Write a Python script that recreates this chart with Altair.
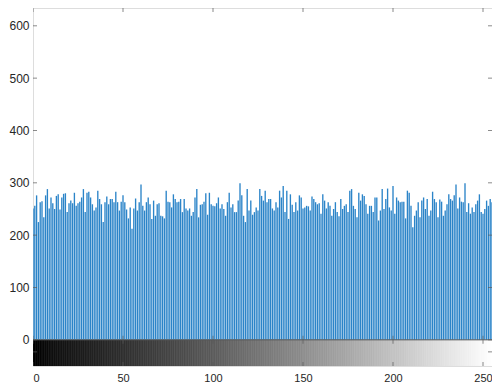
import altair as alt
import pandas as pd

# histogram counts for gray levels 0..255
counts = [
    251,256,276,225,263,265,234,276,288,251, 272,261,250,275,278,249,272,279,280,244,
    261,266,261,281,256,261,264,272,288,244, 281,283,272,259,247,253,285,269,259,225,
    263,274,259,269,
    269,263,283,263,247,264,276,263,249,232, 253,212,251,270,247,263,297,256,247,263,
    272,259,231,266,237,259,261,237,236,232, 285,264,263,253,278,269,263,264,269,244,
    269,251,247,251,
    237,244,272,288,234,258,259,264,280,239, 281,259,256,255,261,272,251,259,250,237,
    263,281,253,259,244,244,266,299,276,237, 225,288,247,266,239,244,253,247,288,275,
    266,285,263,269,
    269,251,247,263,253,285,272,294,244,285, 231,278,258,244,263,247,276,272,251,253,
    256,255,247,274,269,263,259,261,241,278, 266,251,263,256,237,250,263,244,236,269,
    250,256,259,244,
    285,288,256,250,234,281,266,278,275,259, 241,256,256,244,272,272,228,247,288,250,
    269,289,253,247,294,241,272,266,263,264, 264,232,285,281,256,215,237,247,263,234,
    266,272,250,269,237,
    247,283,269,263,234,268,264,237,247,259, 278,269,266,276,297,251,272,264,263,299,
    244,261,241,253,244,259,266,278,244,241, 250,266,256,269,263,
]
levels = list(range(len(counts)))
x_ticks = [0, 50, 100, 150, 200, 250]
y_ticks = [0, 100, 200, 300, 400, 500, 600]
x_min, x_max = 0, 255
y_top = 634
cbar_bottom = -50
cbar_mid = -23

hist_df = pd.DataFrame({"level": levels, "count": counts})
cbar_df = pd.DataFrame({"level": levels, "lo": [l - 0.5 for l in levels], "hi": [l + 0.5 for l in levels]})

xs = alt.Scale(domain=[x_min, x_max], nice=False, zero=False)
ys = alt.Scale(domain=[cbar_bottom, y_top], nice=False, zero=False)

label_color = "#262626"
frame_color = "#5a5a5a"
gray = alt.Scale(domain=[0, 255], range=["#000000", "#ffffff"])

bars = alt.Chart(hist_df).mark_rule(color="#2b84c8", strokeWidth=1.35, clip=True).encode(
    x=alt.X("level:Q", scale=xs,
            axis=alt.Axis(values=x_ticks, ticks=False, domain=False, grid=False, title=None,
                          labelFontSize=11, labelColor=label_color, labelPadding=6,
                          labelFont="Liberation Sans")),
    y=alt.Y("y0:Q", scale=ys,
            axis=alt.Axis(values=y_ticks, ticks=False, domain=False, grid=False, title=None,
                          labelFontSize=12, labelColor=label_color, labelPadding=4,
                          labelFont="Liberation Sans")),
    y2="count:Q",
).transform_calculate(y0="0")

cbar = alt.Chart(cbar_df).mark_rect(clip=True, strokeWidth=0.6).encode(
    x="lo:Q",
    x2="hi:Q",
    y=alt.datum(cbar_bottom),
    y2=alt.datum(0),
    color=alt.Color("level:Q", scale=gray, legend=None),
    stroke=alt.Stroke("level:Q", scale=gray, legend=None),
)

sep = alt.Chart(pd.DataFrame({"v": [0]})).mark_rule(color=frame_color, strokeWidth=1).encode(
    y=alt.Y("v:Q"),
)

xt_df = pd.DataFrame({"t": x_ticks})
yt_df = pd.DataFrame({"t": y_ticks})

def xticks_at(yval):
    return alt.Chart(xt_df).mark_tick(orient="vertical", size=8, thickness=1, color=frame_color, clip=True).encode(
        x="t:Q", y=alt.datum(yval))

def yticks_at(xval, df=yt_df):
    return alt.Chart(df).mark_tick(orient="horizontal", size=8, thickness=1, color=frame_color, clip=True).encode(
        y="t:Q", x=alt.datum(xval))

cb_df = pd.DataFrame({"t": [cbar_mid]})

chart = alt.layer(
    cbar, bars, sep,
    xticks_at(y_top), xticks_at(0), xticks_at(cbar_bottom),
    yticks_at(x_min), yticks_at(x_max),
    yticks_at(x_min, cb_df), yticks_at(x_max, cb_df),
).properties(
    width=459, height=358,
    autosize=alt.AutoSizeParams(type="none"),
    padding={"left": 25, "top": 0, "right": 0, "bottom": 22},
).configure_view(stroke=frame_color, strokeWidth=1).configure(background="white")

chart.save("out.html", embed_options={"renderer": "svg", "actions": False})
